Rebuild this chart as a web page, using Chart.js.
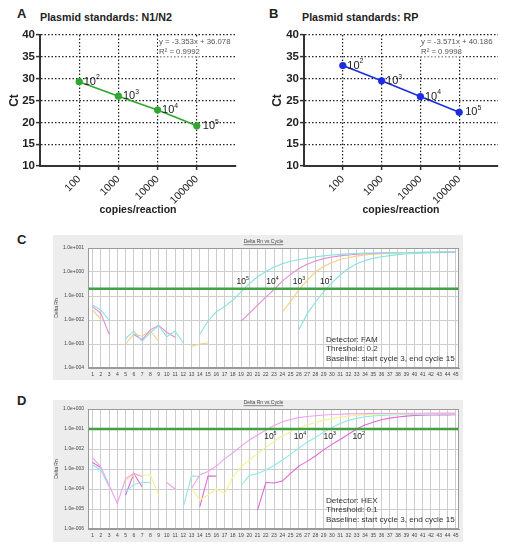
<!DOCTYPE html>
<html lang="en">
<head>
<meta charset="UTF-8">
<title>Plasmid standards and amplification plots</title>
<script src="https://cdn.jsdelivr.net/npm/chart.js"></script>
<style>
  body { margin: 0; background: #fff; }
  #fig { position: relative; width: 509px; height: 550px; overflow: hidden; font-family: Arial, "Liberation Sans", sans-serif; color: #222; }
  #fig canvas { position: absolute; }
  .letter { position: absolute; font-weight: bold; font-size: 13px; line-height: 13px; }
  .title { position: absolute; font-weight: bold; font-size: 10.7px; line-height: 12px; white-space: nowrap; }
</style>
</head>
<body>
<div id="fig">
  <div class="letter" style="left:17px; top:7px;">A</div>
  <div class="title" style="left:40px; top:11px;">Plasmid standards: N1/N2</div>
  <div class="letter" style="left:269px; top:7px;">B</div>
  <div class="title" style="left:302px; top:11px;">Plasmid standards: RP</div>
  <div class="letter" style="left:17px; top:233px;">C</div>
  <div class="letter" style="left:17px; top:394px;">D</div>
  <canvas id="chartA" width="255" height="220" style="left:0; top:0;"></canvas>
  <canvas id="chartB" width="254" height="220" style="left:255px; top:0;"></canvas>
  <canvas id="chartC" width="410" height="145" style="left:53px; top:235px;"></canvas>
  <canvas id="chartD" width="410" height="142" style="left:53px; top:400px;"></canvas>
</div>

<script>
  const FONT = "Arial, 'Liberation Sans', sans-serif";
  Chart.defaults.font.family = FONT;

  // standard curves (A, B)
  const copies = [100, 1000, 10000, 100000];
  const copyExp = ['2', '3', '4', '5'];
  const ctN1N2 = [29.3, 26.0, 22.8, 19.2];
  const ctRP = [33.0, 29.5, 25.9, 22.3];
  const ctTicks = [10, 15, 20, 25, 30, 35, 40];
  const fitN1N2 = ['y = -3.353x + 36.078', 'R² = 0.9992'];
  const fitRP = ['y = -3.571x + 40.186', 'R² = 0.9998'];

  // amplification plots (C, D)
  const cycles = Array.from({ length: 45 }, (x, i) => i + 1);
  const famTicks = [1e-4, 1e-3, 1e-2, 1e-1, 1, 10];
  const hexTicks = [1e-6, 1e-5, 1e-4, 1e-3, 1e-2, 1e-1, 1];
  const famThreshold = 0.2;
  const hexThreshold = 0.1;
  const famInfo = ['Detector: FAM', 'Threshold: 0.2', 'Baseline: start cycle 3, end cycle 15'];
  const hexInfo = ['Detector: HEX', 'Threshold: 0.1', 'Baseline: start cycle 3, end cycle 15'];

  // FAM (N1/N2) delta Rn per cycle, 10^5 .. 10^2
  const fam5 = [
    0.042, 0.026, 0.010, null, 0.0017, 0.0035, 0.0013, 0.0030, 0.0059, 0.0020,
    0.0035, 0.0011, null, 0.0026, 0.0091, 0.022, 0.036, 0.068, 0.15, 0.33,
    0.63, 1.05, 1.6, 2.2, 2.8, 3.3, 3.8, 4.3, 4.7, 5.1,
    5.4, 5.7, 5.9, 6.1, 6.2, 6.3, 6.4, 6.5, 6.5, 6.6,
    6.6, 6.6, 6.7, 6.7, 6.7];
  const fam4 = [
    0.036, 0.019, 0.0026, null, null, 0.0025, 0.0015, 0.0039, 0.0060, 0.0031,
    0.0019, null, null, null, null, null, null, null, 0.009, 0.019,
    0.042, 0.09, 0.19, 0.42, 0.8, 1.4, 2.1, 2.9, 3.6, 4.2,
    4.7, 5.1, 5.5, 5.8, 6.0, 6.2, 6.3, 6.4, 6.5, 6.5,
    6.6, 6.6, 6.6, 6.7, 6.7];
  const fam3 = [
    0.026, 0.011, null, null, 0.0010, 0.0026, 0.0021, 0.0036, 0.0013, null,
    null, null, 0.0008, 0.0010, 0.0011, null, null, null, null, null,
    null, null, null, 0.022, 0.06, 0.18, 0.45, 1.0, 1.7, 2.5,
    3.3, 4.0, 4.6, 5.1, 5.5, 5.8, 6.0, 6.2, 6.3, 6.4,
    6.5, 6.5, 6.6, 6.6, 6.6];
  const fam2 = [
    null, null, null, null, null, null, null, null, null, null,
    null, null, null, null, null, null, null, null, null, null,
    null, null, null, null, null, 0.004, 0.018, 0.055, 0.15, 0.35,
    0.75, 1.4, 2.2, 3.0, 3.7, 4.3, 4.8, 5.3, 5.6, 5.9,
    6.1, 6.3, 6.4, 6.5, 6.5];

  // HEX (RP) delta Rn per cycle, 10^5 .. 10^2
  const hex5 = [
    0.0037, 0.0013, 0.00016, 0.000019, 0.00032, 0.0006, 0.00042, null, null, 0.00021,
    0.0001, null, 0.00011, 0.0005, 0.00075, 0.0014, 0.0032, 0.0065, 0.014, 0.028,
    0.05, 0.09, 0.15, 0.23, 0.3, 0.37, 0.42, 0.46, 0.5, 0.53,
    0.55, 0.57, 0.58, 0.59, 0.6, 0.6, 0.6, 0.61, 0.61, 0.61,
    0.61, 0.62, 0.62, 0.62, 0.62];
  const hex4 = [
    null, null, null, null, 0.00025, 0.0005, 0.0005, 0.0005, 0.00005, null,
    null, null, 0.00011, 0.000028, 0.00005, 0.0001, 0.00006, 0.0004, 0.0013, 0.0028,
    0.006, 0.012, 0.024, 0.045, 0.075, 0.11, 0.16, 0.21, 0.27, 0.33,
    0.39, 0.44, 0.48, 0.51, 0.53, 0.55, 0.56, 0.57, 0.57, 0.58,
    0.58, 0.58, 0.58, 0.58, 0.58];
  const hex3 = [
    0.0016, 0.0009, 0.00013, null, 0.00007, 0.00017, 0.00021, 0.00021, null, null,
    null, 0.000013, 0.00045, 0.00042, null, null, null, null, 0.00015, 0.00047,
    0.0006, 0.0009, 0.0015, 0.0028, 0.0054, 0.011, 0.022, 0.038, 0.068, 0.12,
    0.19, 0.27, 0.34, 0.41, 0.45, 0.48, 0.5, 0.52, 0.53, 0.54,
    0.55, 0.55, 0.56, 0.56, 0.56];
  const hex2 = [
    0.0021, 0.0012, null, null, 0.00005, 0.0006, 0.00013, null, null, null,
    null, null, null, 0.000013, 0.00045, 0.00044, null, null, null, null,
    0.000009, 0.00021, 0.0002, 0.00025, 0.0006, 0.0014, 0.0024, 0.0045, 0.009, 0.017,
    0.03, 0.055, 0.1, 0.16, 0.22, 0.29, 0.35, 0.4, 0.44, 0.47,
    0.49, 0.5, 0.51, 0.51, 0.52];

  const famColors = ['#86e3e0', '#e68bd6', '#f2cf82', '#86e3e0'];
  const hexColors = ['#f0a2ee', '#f3f294', '#8ee8e8', '#e266dc'];

  // "10" with a superscript exponent
  function drawPower(ctx, x, y, exp, size, align) {
    ctx.font = size + 'px ' + FONT;
    const w1 = ctx.measureText('10').width;
    ctx.font = (size * 0.62) + 'px ' + FONT;
    const w2 = ctx.measureText(exp).width;
    const x0 = align === 'center' ? x - (w1 + w2) / 2 : x;
    ctx.textAlign = 'left';
    ctx.textBaseline = 'middle';
    ctx.font = size + 'px ' + FONT;
    ctx.fillText('10', x0, y);
    ctx.font = (size * 0.62) + 'px ' + FONT;
    ctx.fillText(exp, x0 + w1, y - size * 0.38);
  }

  function standardLabels(fit) {
    return {
      id: 'standardLabels',
      afterDatasetsDraw(chart) {
        const ctx = chart.ctx;
        const a = chart.chartArea;
        const pts = chart.getDatasetMeta(0).data;
        ctx.save();
        ctx.fillStyle = '#222';
        pts.forEach((p, i) => drawPower(ctx, p.x + (i === pts.length - 1 ? 6 : 4.5), p.y, copyExp[i], 11, 'left'));
        // regression text on a white box
        ctx.font = '7.8px ' + FONT;
        ctx.textAlign = 'left';
        ctx.textBaseline = 'middle';
        fit.forEach((t, k) => {
          const w = ctx.measureText(t).width;
          ctx.fillStyle = '#fff';
          ctx.fillRect(a.right - 78, a.top + 2 + k * 10, w + 2, 9.5);
          ctx.fillStyle = '#555';
          ctx.fillText(t, a.right - 77, a.top + 6.7 + k * 10);
        });
        ctx.restore();
      }
    };
  }

  function standardChart(id, ct, color, fit, padLeft, padRight, yWidth) {
    const dotted = { color: '#333', width: 2, dash: [1.5, 2] };
    const grid = { color: '#222', lineWidth: 1.2, tickColor: '#333', tickLength: 4, tickWidth: 1.5 };
    return new Chart(document.getElementById(id), {
      type: 'line',
      data: {
        datasets: [{
          data: copies.map((c, i) => ({ x: c, y: ct[i] })),
          borderColor: color, backgroundColor: color,
          borderWidth: 1.6, pointRadius: 3.6, pointBorderWidth: 0, tension: 0
        }]
      },
      options: {
        responsive: false, animation: false, events: [],
        layout: { padding: { left: padLeft, right: padRight, top: 35, bottom: 0 } },
        plugins: { legend: { display: false }, tooltip: { enabled: false } },
        scales: {
          x: {
            type: 'logarithmic', min: 10, max: 1000000,
            afterBuildTicks: s => { s.ticks = copies.map(v => ({ value: v })); },
            afterFit: s => { s.height = 54; },
            ticks: { callback: v => String(v), minRotation: 45, maxRotation: 45, autoSkip: false, padding: 3, color: '#222', font: { size: 10.5 } },
            grid: grid, border: dotted,
            title: { display: true, text: 'copies/reaction', color: '#222', font: { size: 10.5, weight: 'bold' }, padding: { top: 0, bottom: 4 } }
          },
          y: {
            min: 10, max: 40,
            afterBuildTicks: s => { s.ticks = ctTicks.map(v => ({ value: v })); },
            afterFit: s => { s.width = yWidth; },
            ticks: { padding: 1, color: '#222', font: { size: 11.5, weight: 'bold' } },
            grid: grid, border: dotted,
            title: { display: true, text: 'Ct', color: '#222', font: { size: 12, weight: 'bold' }, padding: { top: 3, bottom: 0 } }
          }
        }
      },
      plugins: [standardLabels(fit)]
    });
  }

  function sci(v) {
    const e = Math.round(Math.log10(v));
    return '1.0e' + (e < 0 ? '-' : '+') + String(Math.abs(e)).padStart(3, '0');
  }

  function ampDecor(ct, threshold, labelDx, labelDy, info) {
    return {
      id: 'ampDecor',
      beforeDraw(chart) {
        const { ctx, chartArea: a, width, height } = chart;
        ctx.save();
        ctx.fillStyle = '#ededed';
        ctx.fillRect(0, 0, width, height);
        ctx.fillStyle = '#fff';
        ctx.fillRect(a.left, a.top, a.right - a.left, a.bottom - a.top);
        ctx.restore();
      },
      afterDraw(chart) {
        const { ctx, chartArea: a } = chart;
        const xs = chart.scales.x, ys = chart.scales.y;
        ctx.save();
        ctx.strokeStyle = '#9a9a9a';
        ctx.lineWidth = 1;
        ctx.strokeRect(a.left + 0.5, a.top + 0.5, a.right - a.left - 1, a.bottom - a.top - 1);
        // title
        ctx.fillStyle = '#444';
        ctx.font = '5px ' + FONT;
        ctx.textAlign = 'center';
        ctx.textBaseline = 'middle';
        const tx = (a.left + a.right) / 2 - 10, ty = a.top - 6.5;
        ctx.fillText('Delta Rn vs Cycle', tx, ty);
        const tw = ctx.measureText('Delta Rn vs Cycle').width;
        ctx.fillRect(tx - tw / 2, ty + 3, tw, 0.6);
        // dilution labels at the threshold crossing
        ctx.fillStyle = '#222';
        const thrY = ys.getPixelForValue(threshold);
        ct.forEach((c, i) => drawPower(ctx, xs.getPixelForValue(c) + labelDx, thrY + labelDy, copyExp[i], 8.5, 'center'));
        // run info
        ctx.fillStyle = '#333';
        ctx.font = '8.1px ' + FONT;
        ctx.textAlign = 'left';
        ctx.textBaseline = 'middle';
        info.forEach((t, k) => ctx.fillText(t, a.left + 238, a.bottom - 28.5 + k * 9.4));
        ctx.restore();
      }
    };
  }

  function ampChart(id, series, colors, yTicks, threshold, ct, labelDx, labelDy, info, padTop, xHeight) {
    const datasets = series.map((s, k) => ({
      data: cycles.map((c, i) => ({ x: c, y: s[i] })),
      borderColor: colors[k], borderWidth: 1.1, pointRadius: 0, tension: 0, spanGaps: false
    }));
    datasets.unshift({
      data: [{ x: 0.45, y: threshold }, { x: 45.4, y: threshold }],
      borderColor: '#43a043', backgroundColor: '#2b7a2b', borderWidth: 2.4,
      pointRadius: 1.8, pointStyle: 'rect', pointBorderWidth: 0
    });
    const grid = { color: '#cdcdcd', lineWidth: 1, drawTicks: false };
    return new Chart(document.getElementById(id), {
      type: 'line',
      data: { datasets: datasets },
      options: {
        responsive: false, animation: false, events: [],
        layout: { padding: { left: 0, right: 4, top: padTop, bottom: 0 } },
        plugins: { legend: { display: false }, tooltip: { enabled: false } },
        scales: {
          x: {
            type: 'linear', min: 0.45, max: 45.4,
            afterBuildTicks: s => { s.ticks = cycles.map(v => ({ value: v })); },
            afterFit: s => { s.height = xHeight; },
            ticks: { callback: v => String(v), autoSkip: false, minRotation: 0, maxRotation: 0, padding: 4, color: '#444', font: { size: 5 } },
            grid: grid, border: { color: '#9a9a9a', width: 1 }
          },
          y: {
            type: 'logarithmic', min: yTicks[0], max: yTicks[yTicks.length - 1],
            afterBuildTicks: s => { s.ticks = yTicks.map(v => ({ value: v })); },
            afterFit: s => { s.width = 35; },
            ticks: { callback: v => sci(v), padding: 4, color: '#444', font: { size: 5 } },
            grid: grid, border: { color: '#9a9a9a', width: 1 },
            title: { display: true, text: 'Delta Rn', color: '#444', font: { size: 5 }, padding: { top: 1, bottom: 0 } }
          }
        }
      },
      plugins: [ampDecor(ct, threshold, labelDx, labelDy, info)]
    });
  }

  standardChart('chartA', ctN1N2, '#2ea82e', fitN1N2, 4, 19, 36);
  standardChart('chartB', ctRP, '#1c2de0', fitRP, 12, 11, 37);
  ampChart('chartC', [fam5, fam4, fam3, fam2], famColors, famTicks, famThreshold, ctN1N2, 0, -7, famInfo, 13, 12);
  ampChart('chartD', [hex5, hex4, hex3, hex2], hexColors, hexTicks, hexThreshold, ctRP, 2, 8, hexInfo, 9, 13);
</script>
</body>
</html>
